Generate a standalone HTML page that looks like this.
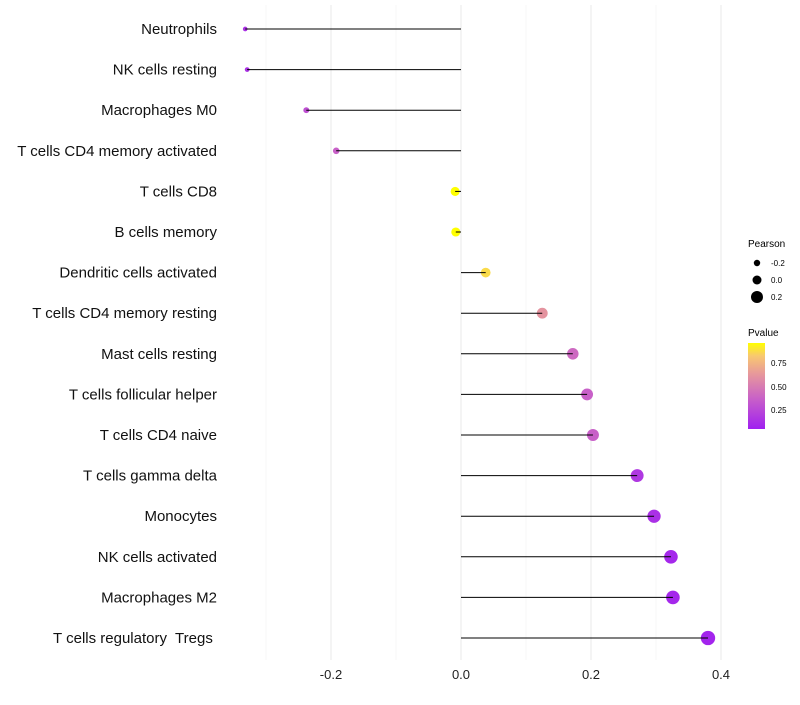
<!DOCTYPE html>
<html><head><meta charset="utf-8"><style>
body{margin:0;background:#fff;font-family:"Liberation Sans",sans-serif}
svg text{font-family:"Liberation Sans",sans-serif;white-space:pre}
</style></head><body>
<svg id="c" width="800" height="700">
<defs><linearGradient id="pg" x1="0" y1="1" x2="0" y2="0">
<stop offset="0" stop-color="#A020F0"/><stop offset="0.35" stop-color="#C860C8"/><stop offset="0.65" stop-color="#E89A9A"/><stop offset="0.85" stop-color="#F8C870"/><stop offset="1" stop-color="#FFFF00"/></linearGradient></defs>
<g id="grid"></g><g id="dots"></g><g id="marks"></g><g id="labels"></g>
<g>
<text x="748" y="247" font-size="10">Pearson</text>
<circle cx="757" cy="263" r="3.2"/>
<text x="771" y="266" font-size="8">-0.2</text>
<circle cx="757" cy="280" r="4.5"/>
<text x="771" y="283" font-size="8">0.0</text>
<circle cx="757" cy="297" r="6"/>
<text x="771" y="300" font-size="8">0.2</text>
<text x="748" y="336" font-size="10">Pvalue</text>
<rect x="748" y="343" width="17" height="86" fill="url(#pg)"/>
<text x="771" y="366" font-size="8">0.75</text>
<text x="771" y="390" font-size="8">0.50</text>
<text x="771" y="413" font-size="8">0.25</text>
</g>
</svg>
<script>
const cells=["Neutrophils","NK cells resting","Macrophages M0","T cells CD4 memory activated","T cells CD8","B cells memory","Dendritic cells activated","T cells CD4 memory resting","Mast cells resting","T cells follicular helper","T cells CD4 naive","T cells gamma delta","Monocytes","NK cells activated","Macrophages M2","T cells regulatory  Tregs "];
const pearson=[-0.332,-0.329,-0.238,-0.192,-0.009,-0.008,0.038,0.125,0.172,0.194,0.203,0.271,0.297,0.323,0.326,0.38];
const pvalue=[0.15,0.15,0.3,0.38,0.97,0.97,0.88,0.62,0.42,0.38,0.38,0.18,0.14,0.1,0.1,0.08];
const xTicks=[-0.2,0,0.2,0.4];
const xMinor=[-0.3,-0.1,0.1,0.3];
const NS="http://www.w3.org/2000/svg";
const X=v=>461+v*650, Y=i=>29+i*40.6, R=v=>4.6+6.8*v;
const stops=[[0,[160,32,240]],[0.35,[200,96,200]],[0.65,[232,154,154]],[0.85,[248,200,112]],[1,[255,255,0]]];
function col(p){const t=Math.max(0,Math.min(1,(p-0.06)/0.91));for(let k=1;k<stops.length;k++){if(t<=stops[k][0]){const a=stops[k-1],b=stops[k],f=(t-a[0])/(b[0]-a[0]);return "rgb("+a[1].map((c,j)=>Math.round(c+(b[1][j]-c)*f)).join(",")+")";}}return "rgb(255,255,0)";}
function mk(g,tag,at){const e=document.createElementNS(NS,tag);for(const k in at)e.setAttribute(k,at[k]);document.getElementById(g).appendChild(e);return e;}
xMinor.forEach(v=>{const l=mk("grid","line",{x1:X(v),x2:X(v),y1:5,y2:660,stroke:"#f2f2f2","stroke-width":0.6});

});
xTicks.forEach(v=>{const l=mk("grid","line",{x1:X(v),x2:X(v),y1:5,y2:660,stroke:"#e8e8e8","stroke-width":1});


const t=mk("labels","text",{x:X(v),y:679,"font-size":13,"text-anchor":"middle",fill:"#222"});t.textContent=v.toFixed(1);

});
cells.forEach((c,i)=>{const y=Y(i);
const d=mk("dots","circle",{cx:X(pearson[i]),cy:y,r:R(pearson[i]),fill:col(pvalue[i])});


const l=mk("marks","line",{x1:X(0),x2:X(pearson[i]),y1:y,y2:y,stroke:"#000","stroke-width":1});


const t=mk("labels","text",{x:217,y:y+5,"font-size":15,"text-anchor":"end",fill:"#111"});t.textContent=c;

});
</script>
</body></html>
